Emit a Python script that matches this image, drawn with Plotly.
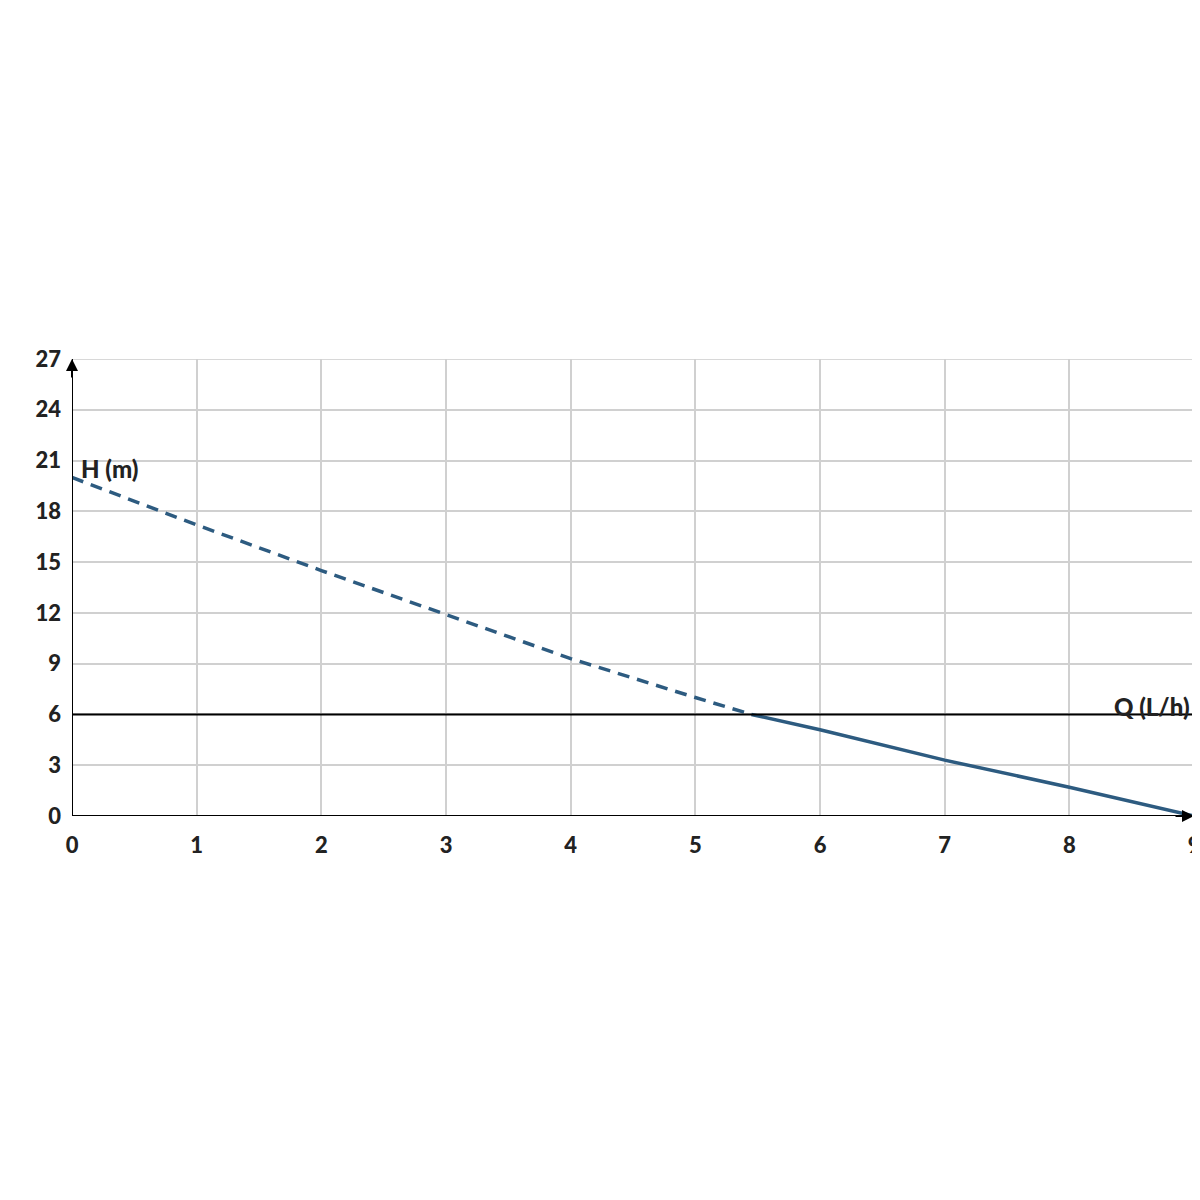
import plotly.graph_objects as go

dash_q = [0, 1, 2, 3, 4, 5, 5.45]
dash_h = [20, 17.2, 14.5, 11.9, 9.3, 7.0, 6.0]
solid_q = [5.45, 6, 7, 8, 9]
solid_h = [6.0, 5.1, 3.3, 1.7, 0]
x_ticks = list(range(10))
y_ticks = list(range(0, 28, 3))
ref_h = 6

col = "#2d5b80"
fig = go.Figure()
fig.add_trace(go.Scatter(x=dash_q, y=dash_h, mode="lines",
                         line=dict(color=col, width=3.5, dash="12px,8px")))
fig.add_trace(go.Scatter(x=solid_q, y=solid_h, mode="lines",
                         line=dict(color=col, width=3.5)))
fig.add_shape(type="line", x0=0, x1=9, y0=ref_h, y1=ref_h,
              line=dict(color="black", width=2))
fig.add_shape(type="rect", x0=0, x1=9, y0=0, y1=27,
              line=dict(color="#cccccc", width=1.5), layer="below")
fig.add_shape(type="line", x0=0, x1=0, y0=0, y1=27, line=dict(color="black", width=2))
fig.add_shape(type="line", x0=0, x1=9, y0=0, y1=0, line=dict(color="black", width=2))
# axis arrows
fig.add_annotation(x=0, y=27, ax=0, ay=20, xref="x", yref="y",
                   showarrow=True, arrowhead=2, arrowsize=1.2, arrowwidth=2, arrowcolor="black", text="")
fig.add_annotation(x=9, y=0, ax=-20, ay=0, xref="x", yref="y",
                   showarrow=True, arrowhead=2, arrowsize=1.2, arrowwidth=2, arrowcolor="black", text="")
fig.add_annotation(x=8 / 1200, y=1 - 332 / 1200, xref="paper", yref="paper", text="<b>H (m)</b>", showarrow=False,
                   xanchor="left", yanchor="bottom", font=dict(size=24, color="#222", family="Lato Black"))
fig.add_annotation(x=1198 / 1200, y=1 - 868 / 1200, xref="paper", yref="paper", text="<b>Q (L/h)</b>", showarrow=False,
                   xanchor="right", yanchor="top", font=dict(size=24, color="#222", family="Lato Black"))

fig.update_xaxes(range=[0, 9], tickvals=x_ticks, showgrid=True, gridcolor="#d0d0d0", gridwidth=1.5,
                 zeroline=False, showline=False, ticks="", automargin=False, ticklabelstandoff=14,
                 tickfont=dict(size=22, color="#222", family="Lato Black"))
fig.update_yaxes(range=[0, 27], tickvals=y_ticks, showgrid=True, gridcolor="#d0d0d0", gridwidth=1.5,
                 zeroline=False, showline=False, ticks="", ticklabelstandoff=10, automargin=False,
                 tickfont=dict(size=22, color="#222", family="Lato Black"))
fig.update_layout(width=1200, height=1200, showlegend=False, plot_bgcolor="white", paper_bgcolor="white",
                  margin=dict(l=64, r=14, t=351, b=392), font=dict(family="Lato"))
fig.write_html("out.html")
